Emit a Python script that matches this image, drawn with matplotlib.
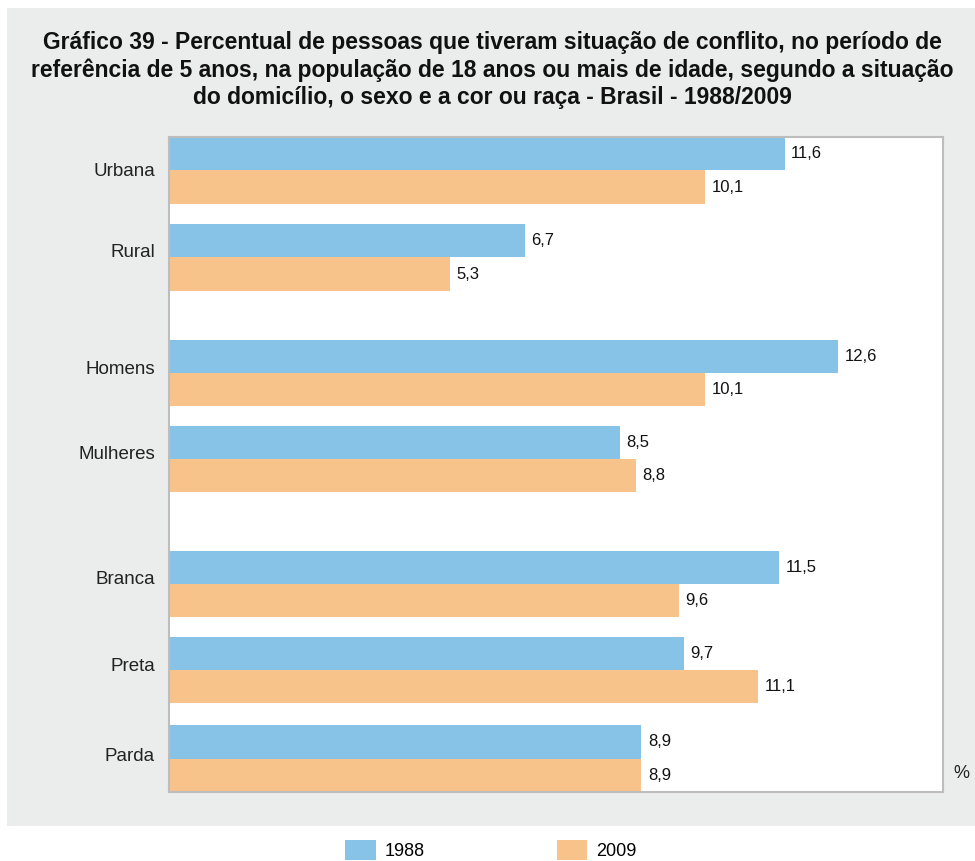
import matplotlib.pyplot as plt
import matplotlib.patches as patches
import numpy as np

categorias = ['Urbana', 'Rural', 'Homens', 'Mulheres', 'Branca', 'Preta', 'Parda']
v1988 = [11.6, 6.7, 12.6, 8.5, 11.5, 9.7, 8.9]
v2009 = [10.1, 5.3, 10.1, 8.8, 9.6, 11.1, 8.9]
anos = ['1988', '2009']
titulo = ('Gráfico 39 - Percentual de pessoas que tiveram situação de conflito, no período de\n'
          'referência de 5 anos, na população de 18 anos ou mais de idade, segundo a situação\n'
          'do domicílio, o sexo e a cor ou raça - Brasil - 1988/2009')

azul = '#87c3e7'
laranja = '#f8c38a'
cinza = '#ebecec'

plt.rcParams['font.family'] = ['Liberation Sans', 'DejaVu Sans']

fig = plt.figure(figsize=(9.75, 8.61), dpi=100)
W, H = 975, 861

# fundo cinza
fig.patches.append(patches.Rectangle((7 / W, 1 - 826 / H), 1 - 7 / W, (826 - 8) / H,
                                     transform=fig.transFigure, facecolor=cinza,
                                     edgecolor='none', zorder=-1))

ax = fig.add_axes([169 / W, 1 - 792 / H, (943 - 169) / W, (792 - 137) / H])
ax.set_zorder(2)
ax.set_facecolor('white')

# posições dos grupos (com espaço entre blocos)
pos = np.array([0, 1, 2.33, 3.32, 4.75, 5.74, 6.76])
h = 0.38
b1 = ax.barh(pos - h / 2, v1988, height=h, color=azul, label=anos[0])
b2 = ax.barh(pos + h / 2, v2009, height=h, color=laranja, label=anos[1])

for bars, vals in [(b1, v1988), (b2, v2009)]:
    for bar, v in zip(bars, vals):
        ax.text(bar.get_width() + 0.12, bar.get_y() + bar.get_height() / 2,
                f'{v:.1f}'.replace('.', ','), va='center', ha='left', fontsize=12,
                color='#111111')

ax.set_xlim(0, 14.58)
ax.set_ylim(pos[-1] + h + 0.005, pos[0] - h - 0.005)
ax.set_yticks(pos - np.array([0.01, 0.08, 0.06, 0.08, 0.07, 0.06, 0.05]))
ax.set_yticklabels(categorias, fontsize=13.5, color='#222222')
ax.tick_params(axis='y', length=0, pad=10)
ax.set_xticks([])
for s in ax.spines.values():
    s.set_color('#bdbdbd')
    s.set_linewidth(1.5)

fig.text(953 / W, 1 - 773 / H, '%', fontsize=13, ha='left', va='center', color='#222222')

fig.text(492.5 / W, 1 - 70 / H, titulo, ha='center', va='center', fontsize=16.5,
         fontweight='bold', linespacing=1.22, color='#111111')

# legenda
leg = fig.legend(handles=[b1, b2], labels=anos, loc='center', ncol=2,
                 bbox_to_anchor=(491 / W, 1 - 850 / H), frameon=False, fontsize=13,
                 handlelength=1.7, handleheight=1.35, columnspacing=7.3, handletextpad=0.5)

fig.savefig('out.png', dpi=100)
